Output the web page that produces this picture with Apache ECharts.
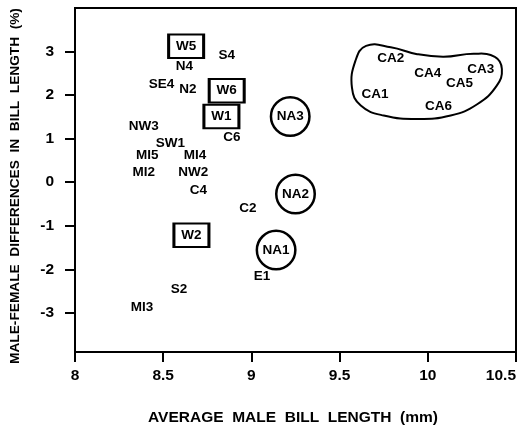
<!DOCTYPE html>
<html>
<head>
<meta charset="utf-8">
<script src="https://cdn.jsdelivr.net/npm/echarts@6/dist/echarts.min.js"></script>
<style>
html,body{margin:0;padding:0;background:#fff;}
#chart{width:519px;height:427px;}
</style>
</head>
<body>
<div id="chart"></div>
<script>
// Plain labelled populations
var plainNames = ['S4','N4','SE4','N2','NW3','C6','SW1','MI5','MI4','MI2','NW2','C4','C2','E1','S2','MI3','CA2','CA4','CA3','CA5','CA1','CA6'];
var plainX     = [8.86,8.62,8.49,8.64,8.39,8.89,8.54,8.41,8.68,8.39,8.67,8.70,8.98,9.06,8.59,8.38,9.79,10.00,10.30,10.18,9.70,10.06];
var plainY     = [2.92,2.67,2.25,2.13,1.28,1.02,0.89,0.62,0.62,0.22,0.22,-0.19,-0.59,-2.16,-2.46,-2.87,2.84,2.50,2.59,2.27,2.01,1.74];
// Boxed populations
var boxNames = ['W5','W6','W1','W2'];
var boxX     = [8.63,8.86,8.83,8.66];
var boxY     = [3.12,2.10,1.51,-1.22];
// Circled populations
var circNames = ['NA3','NA2','NA1'];
var circX     = [9.22,9.25,9.14];
var circY     = [1.51,-0.27,-1.56];
// Outline enclosing the CA group (data coordinates)
var blobX = [9.65,9.79,9.94,10.09,10.26,10.38,10.42,10.39,10.28,10.13,9.94,9.75,9.62,9.57,9.59];
var blobY = [3.13,3.10,2.94,2.88,2.95,2.88,2.60,2.21,1.79,1.53,1.45,1.53,1.76,2.17,2.79];
// Axis ticks
var xTicks = [8,8.5,9,9.5,10,10.5];
var yTicks = [-3,-2,-1,0,1,2,3];

var FONT = '"Liberation Sans", Arial, Helvetica, sans-serif';
var Y_TITLE = 'MALE-FEMALE  DIFFERENCES  IN  BILL  LENGTH  (%)';
var X_TITLE = 'AVERAGE  MALE  BILL  LENGTH  (mm)';

function zip(xs, ys, names){
  return xs.map(function(x,i){ return {value:[x, ys[i]], name:names[i]}; });
}

var labelStyle = {show:true, position:'inside', formatter:'{b}', fontFamily:FONT, fontWeight:'bold', fontSize:13.5, color:'#000'};

var chart = echarts.init(document.getElementById('chart'), null, {renderer:'canvas'});
var option = {
  animation:false,
  backgroundColor:'#fff',
  grid:{left:75, right:3, top:8, bottom:75, outerBoundsMode:'none', containLabel:false,
        show:true, borderColor:'#000', borderWidth:2, backgroundColor:'transparent'},
  graphic:[{
    type:'text', x:15, y:186, rotation:Math.PI/2, silent:true,
    style:{text:Y_TITLE, fontFamily:FONT, fontWeight:'bold', fontSize:13.7, fill:'#000', align:'center', verticalAlign:'middle'}
  },{
    type:'text', x:293, y:418, silent:true,
    style:{text:X_TITLE, fontFamily:FONT, fontWeight:'bold', fontSize:15.5, fill:'#000', align:'center', verticalAlign:'middle'}
  }],
  xAxis:{
    type:'value', min:8, max:10.5, interval:0.5,
    axisLine:{onZero:false, lineStyle:{color:'#000', width:2}},
    axisTick:{show:true, inside:false, length:10, lineStyle:{color:'#000', width:2}, customValues:xTicks},
    axisLabel:{margin:16, fontFamily:FONT, fontWeight:'bold', fontSize:15.5, color:'#000', customValues:xTicks,
      alignMaxLabel:'right', formatter:function(v){ return String(v); }},
    splitLine:{show:false}
  },
  yAxis:{
    type:'value', min:-3.9, max:4,
    axisLine:{onZero:false, lineStyle:{color:'#000', width:2}},
    axisTick:{show:true, inside:false, length:10, lineStyle:{color:'#000', width:2}, customValues:yTicks},
    axisLabel:{margin:21, fontFamily:FONT, fontWeight:'bold', fontSize:15.5, color:'#000', customValues:yTicks},
    splitLine:{show:false}
  },
  series:[
    {
      type:'custom', silent:true, z:3,
      data:[[blobX[0], blobY[0]]],
      renderItem:function(params, api){
        var pts = blobX.map(function(x,i){ return api.coord([x, blobY[i]]); });
        return {type:'polygon', shape:{points:pts, smooth:0.45},
          style:{fill:'none', stroke:'#000', lineWidth:2}};
      }
    },
    {
      type:'scatter', z:4,
      data:zip(plainX, plainY, plainNames),
      symbolSize:1, itemStyle:{color:'rgba(0,0,0,0)', opacity:1},
      label:labelStyle
    },
    {
      type:'scatter', z:4,
      data:zip(boxX, boxY, boxNames),
      symbol:'rect', symbolSize:[35,23.5],
      itemStyle:{color:'#fff', borderColor:'#000', borderWidth:2.5, opacity:1},
      label:labelStyle
    },
    {
      type:'scatter', z:4,
      data:zip(circX, circY, circNames),
      symbol:'circle', symbolSize:38.5,
      itemStyle:{color:'#fff', borderColor:'#000', borderWidth:2.5, opacity:1},
      label:labelStyle
    }
  ]
};
chart.setOption(option);
</script>
</body>
</html>
